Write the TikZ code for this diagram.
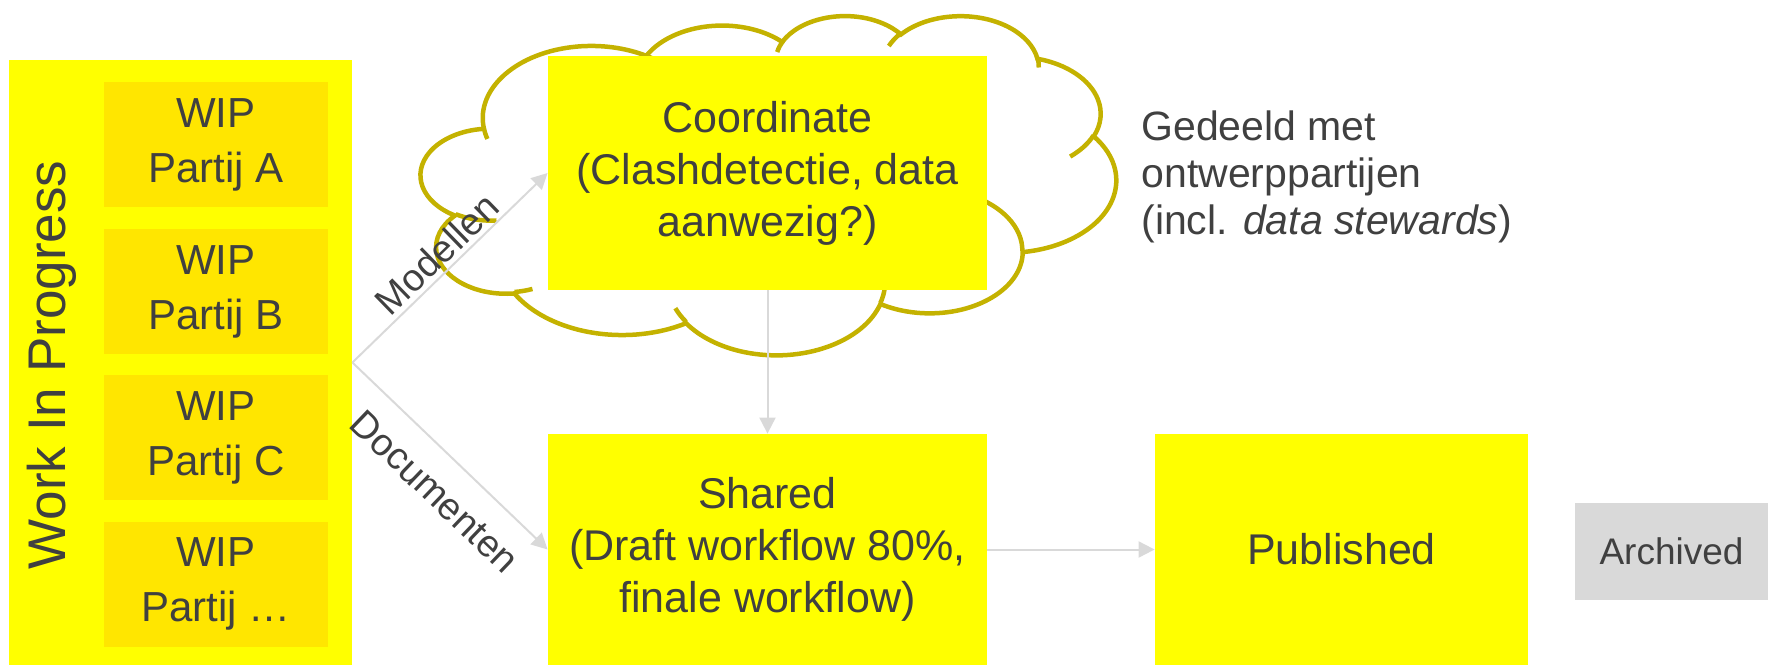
\documentclass[tikz,border=0pt]{standalone}
\usepackage{fontspec}
\setmainfont{Liberation Sans}
\usetikzlibrary{arrows.meta}
\definecolor{txt}{HTML}{404040}
\definecolor{stageyellow}{HTML}{FFFF00}
\definecolor{wipyellow}{HTML}{FFE600}
\definecolor{cloudline}{RGB}{196,178,0}
\definecolor{flowgrey}{HTML}{D9D9D9}
\tikzstyle{lane}=[rectangle,fill=stageyellow,inner sep=0pt,minimum width=171.5pt,minimum height=302.5pt]
\tikzstyle{wipbox}=[rectangle,fill=wipyellow,text=txt,align=center,inner sep=0pt,minimum width=112pt,minimum height=62.5pt,font=\fontsize{21}{27.5}\selectfont]
\tikzstyle{stage}=[rectangle,fill=stageyellow,text=txt,align=center,inner sep=0pt,font=\fontsize{21.5}{26}\selectfont]
\tikzstyle{oldbox}=[rectangle,fill=flowgrey,text=txt,inner sep=0pt,minimum width=96.5pt,minimum height=48.5pt,font=\fontsize{18.5}{22}\selectfont]
\tikzstyle{cloudedge}=[draw=cloudline,line width=2.25pt]
\tikzstyle{note}=[text=txt,align=left,anchor=west,inner sep=0pt,font=\fontsize{20.5}{23.5}\selectfont]
\tikzstyle{tag}=[text=txt,inner sep=2pt,font=\fontsize{19}{22}\selectfont]
\tikzstyle{flow}=[->,>={Triangle[length=8pt,width=8pt]},draw=flowgrey,line width=1pt]
% one puff of the cloud: x radius, y radius, start angle, sweep
\newcommand{\puff}[4]{arc[x radius=#1,y radius=#2,
  start angle={atan2(#1*sin(#3),#2*cos(#3))},
  delta angle={mod(atan2(#1*sin(#3+#4),#2*cos(#3+#4))-atan2(#1*sin(#3),#2*cos(#3))+720,360)}]}

\begin{document}
\begin{tikzpicture}[x=0.5pt,y=-0.5pt]
      \path[use as bounding box] (0,0) rectangle (1768,668);
      % work in progress
      \node[lane] at (180.5,362.5) (wip) {};
      \node[text=txt,rotate=90,font=\fontsize{26.5}{30}\selectfont] at (52,365) (wiplabel) {Work In Progress};
      \node[wipbox] at (216,145) (pa) {WIP\\Partij A};
      \node[wipbox] at (216,291.5) (pb) {WIP\\Partij B};
      \node[wipbox] at (216,437.5) (pc) {WIP\\Partij C};
      \node[wipbox] at (216,584) (pd) {WIP\\Partij …};
      % the cloud
      \begin{scope}[shift={(421,15)},xscale=1.6088,yscale=0.785]
        \draw[cloudedge] (39,143.7) \puff{67.53}{91.90}{-190.4875}{123.7805}
          \puff{53.33}{72.67}{-144.1024}{89.9452}
          \puff{43.65}{59.45}{-145.8079}{99.7230}
          \puff{48.57}{65.95}{-130.9861}{117.2417}
          \puff{53.33}{72.73}{-78.7089}{109.0269}
          \puff{67.75}{92.20}{-46.2673}{130.2690}
          \puff{57.85}{78.67}{0.6250}{114.0333}
          \puff{67.52}{92.15}{22.4516}{115.1726}
          \puff{77.20}{105.43}{66.2426}{75.7110}
          \puff{43.60}{59.18}{-274.9421}{146.7356}
          \puff{43.45}{59.45}{-246.8285}{152.5251} -- cycle;
        \draw[cloudedge] (46.93,261.77) \puff{43.45}{59.45}{86.742}{26.4295}
          (69.28,348.99) \puff{43.60}{59.18}{73.6105}{11.4475}
          (164.78,390.90) \puff{67.52}{92.15}{137.6242}{14.0811}
          (288.27,347.51) \puff{67.52}{92.15}{6.4533}{15.9984}
          (341.29,229.54) \puff{57.85}{78.67}{-70.2924}{70.9174}
          (417.98,153.54) \puff{53.33}{72.73}{30.3180}{27.7515}
          (383.24,54.26) \puff{48.57}{65.95}{-13.7443}{14.8661}
          (290.78,39.52) \puff{48.57}{65.95}{-149.1815}{18.1954}
          (221.41,47.20) \puff{43.65}{59.45}{-163.4943}{17.6864}
          (140.00,51.92) \puff{67.53}{91.90}{-66.7070}{12.3194}
          (41.27,157.89) \puff{67.53}{91.90}{157.6544}{11.8582};
      \end{scope}
      % common data environment
      \node[stage,minimum width=219.5pt,minimum height=117pt] at (767.5,173) (coord) {Coordinate\\(Clashdetectie, data\\aanwezig?)};
      \node[stage,minimum width=219.5pt,minimum height=115.5pt] at (767.5,549.5) (shared) {Shared\\(Draft workflow 80\%,\\finale workflow)};
      \node[stage,minimum width=186.5pt,minimum height=115.5pt] at (1341.5,549.5) (pub) {Published};
      \node[oldbox] at (1671.5,551.5) (arch) {Archived};
      \node[note] at (1141,177) (gedeeld) {Gedeeld met\\ontwerppartijen\\(incl. \textit{data stewards})};
      \draw[flow] (wip.east) -- node[tag,sloped,above] {Modellen} (coord.west);
      \draw[flow] (wip.east) -- node[tag,sloped,below=9pt,pos=0.55] {Documenten} (shared.west);
      \draw[flow] (coord) -- (shared);
      \draw[flow] (shared) -- (pub);
    \end{tikzpicture}
\end{document}
